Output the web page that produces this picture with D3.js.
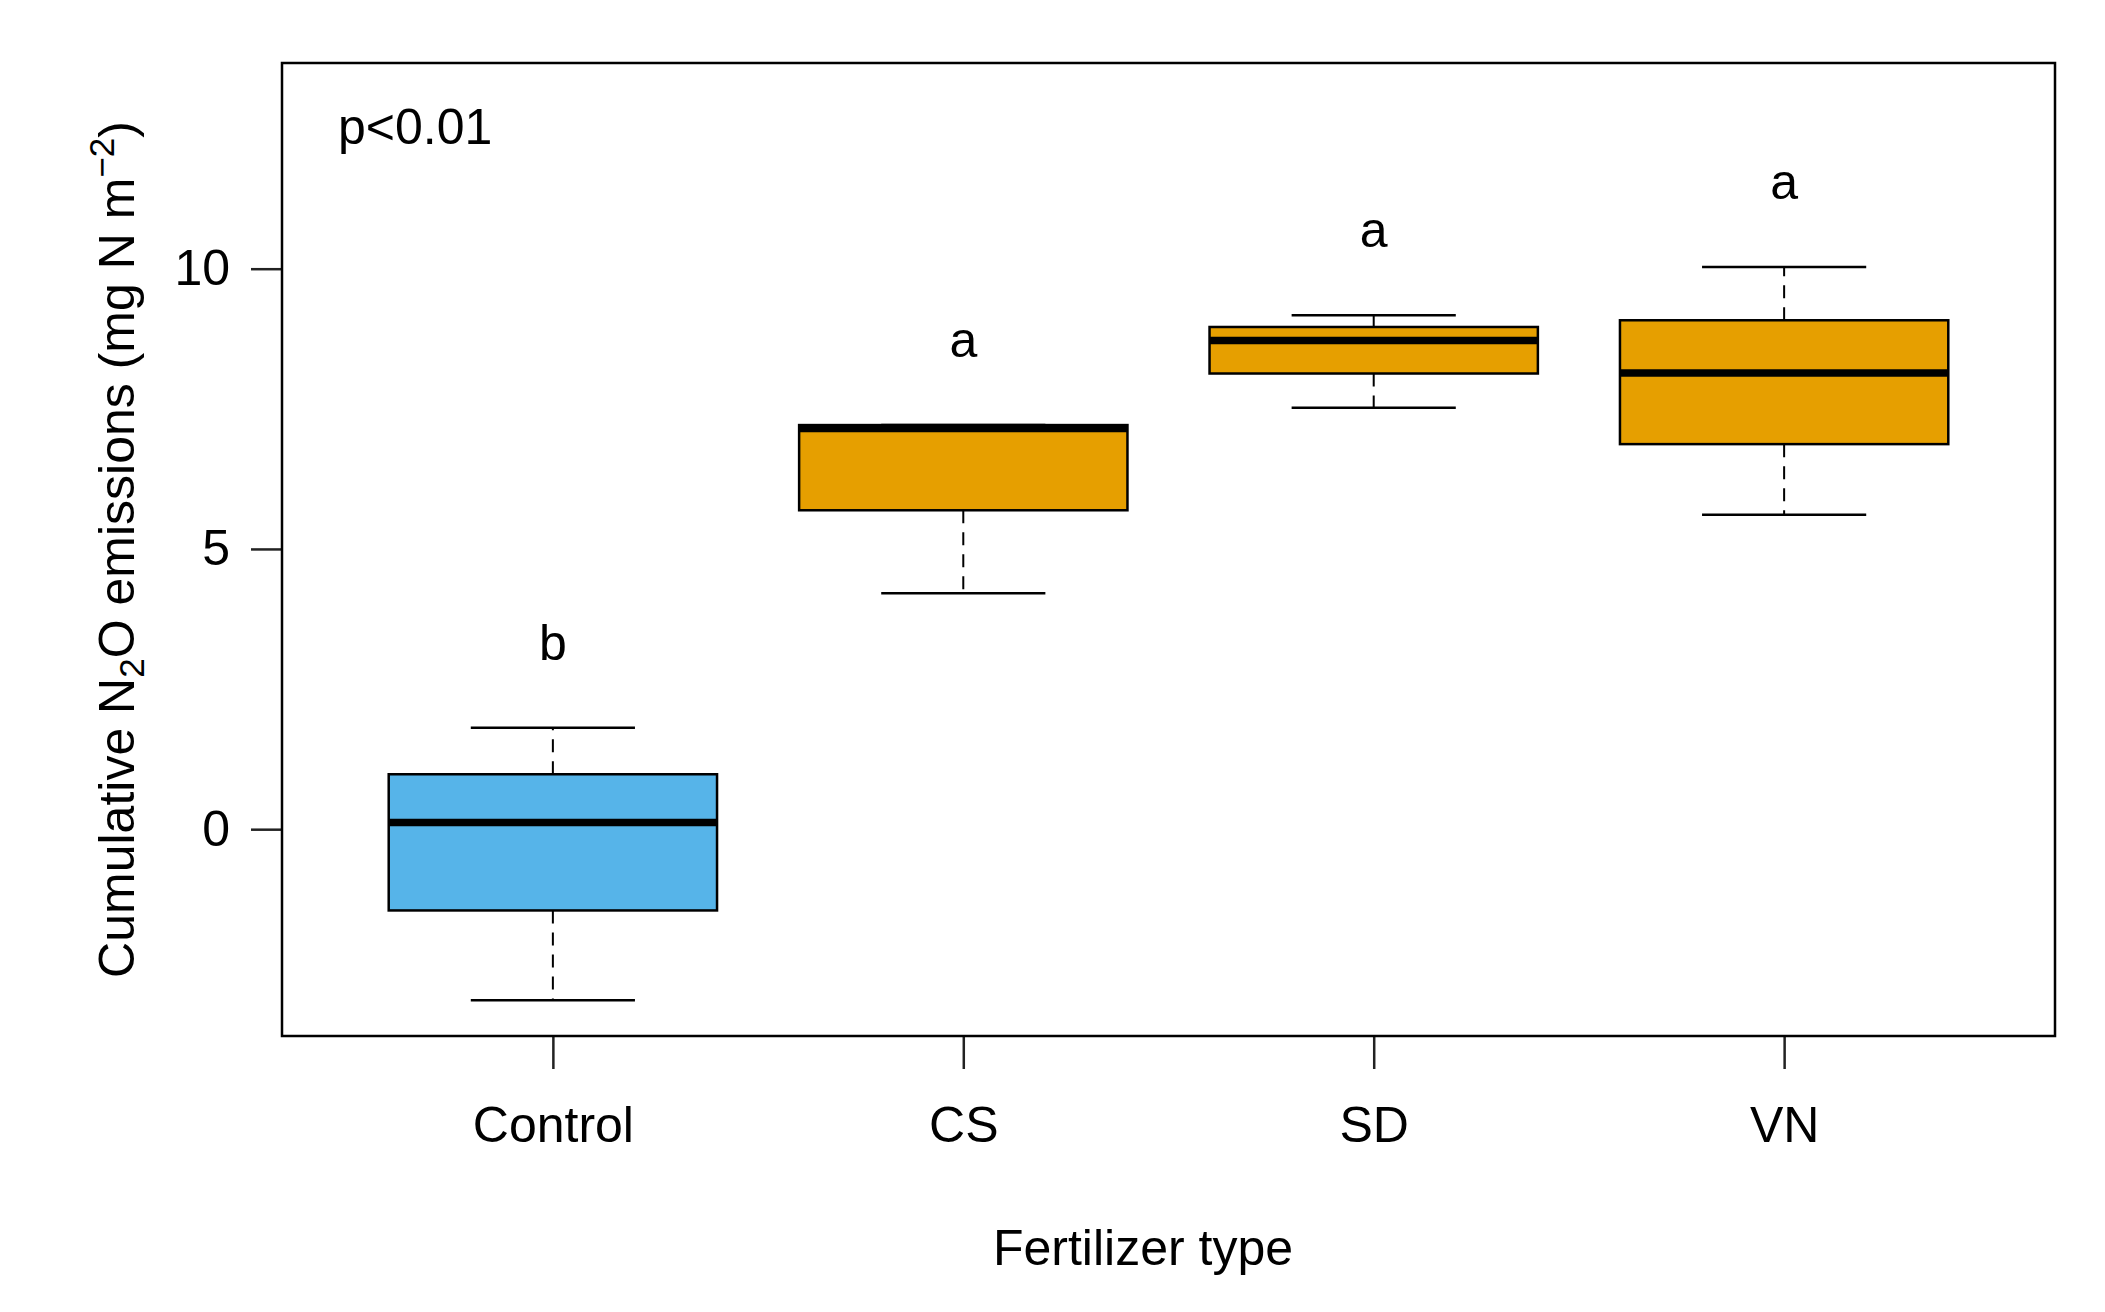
<!DOCTYPE html>
<html>
<head>
<meta charset="utf-8">
<script src="https://cdn.jsdelivr.net/npm/d3@7"></script>
<style>
  body { margin: 0; background: #fff; }
  text { font-family: "Liberation Sans", Arial, Helvetica, sans-serif; fill: #000; }
</style>
</head>
<body>
<script>
// ____________ data
var categories  = ["Control", "CS", "SD", "VN"]
var whiskerLow  = [-3.05, 4.21, 7.52, 5.61]
var q1          = [-1.45, 5.69, 8.13, 6.87]
var medians     = [0.12, 7.15, 8.72, 8.14]
var q3          = [0.98, 7.21, 8.96, 9.08]
var whiskerHigh = [1.81, 7.21, 9.17, 10.03]
var letters     = ["b", "a", "a", "a"]
var yTicks      = [0, 5, 10]
var pLabel      = "p<0.01"

var W = 2105, H = 1312
var box = { left: 282, right: 2055, top: 63, bottom: 1036 }

var svg = d3.select("body").append("svg")
    .attr("width", W)
    .attr("height", H)

// R style: x runs 0.34 .. 4.66 for four groups
var x = d3.scaleLinear()
    .domain([0.34, 4.66])
    .range([box.left, box.right])

var y = d3.scaleLinear()
    .domain([-3.69, 13.67])
    .range([box.bottom, box.top])

var fill = d3.scaleOrdinal()
    .domain(categories)
    .range(["#56B4E9", "#E69F00", "#E69F00", "#E69F00"])

var unit = x(2) - x(1)
var boxW = 0.8 * unit, stapleW = 0.4 * unit

var rows = categories.map(function (c, i) {
  return { name: c, i: i + 1, lo: whiskerLow[i], q1: q1[i], med: medians[i],
           q3: q3[i], hi: whiskerHigh[i], letter: letters[i] }
})

// _____________ axes
var yAxis = svg.append("g")
    .attr("transform", "translate(" + box.left + ",0)")
    .call(d3.axisLeft(y).tickValues(yTicks).tickSize(31).tickPadding(21))
yAxis.select(".domain").remove()

var xAxis = svg.append("g")
    .attr("transform", "translate(0," + box.bottom + ")")
    .call(d3.axisBottom(x).tickValues([1, 2, 3, 4])
      .tickFormat(function (d) { return categories[d - 1] })
      .tickSize(33).tickPadding(37))
xAxis.select(".domain").remove()

svg.selectAll(".tick line").attr("stroke", "#222").attr("stroke-width", 2.5)
svg.selectAll(".tick text")
    .style("font-size", "50px")
    .style("font-family", "'Liberation Sans', Arial, sans-serif")
    .attr("fill", "#000")

// _____________ boxes
var g = svg.append("g").attr("class", "boxes")
var grp = g.selectAll("g.box").data(rows).enter().append("g").attr("class", "box")

// whiskers
grp.append("line")
    .attr("x1", function (d) { return x(d.i) }).attr("x2", function (d) { return x(d.i) })
    .attr("y1", function (d) { return y(d.q3) }).attr("y2", function (d) { return y(d.hi) })
    .attr("stroke", "#000").attr("stroke-width", 2).attr("stroke-dasharray", "13,9")
grp.append("line")
    .attr("x1", function (d) { return x(d.i) }).attr("x2", function (d) { return x(d.i) })
    .attr("y1", function (d) { return y(d.q1) }).attr("y2", function (d) { return y(d.lo) })
    .attr("stroke", "#000").attr("stroke-width", 2).attr("stroke-dasharray", "13,9")

// staples
;["lo", "hi"].forEach(function (k) {
  grp.append("line")
      .attr("x1", function (d) { return x(d.i) - stapleW / 2 })
      .attr("x2", function (d) { return x(d.i) + stapleW / 2 })
      .attr("y1", function (d) { return y(d[k]) }).attr("y2", function (d) { return y(d[k]) })
      .attr("stroke", "#000").attr("stroke-width", 2.5)
})

grp.append("rect")
    .attr("x", function (d) { return x(d.i) - boxW / 2 })
    .attr("width", boxW)
    .attr("y", function (d) { return y(d.q3) })
    .attr("height", function (d) { return y(d.q1) - y(d.q3) })
    .attr("fill", function (d) { return fill(d.name) })
    .attr("stroke", "#000").attr("stroke-width", 2.5)

grp.append("line")
    .attr("x1", function (d) { return x(d.i) - boxW / 2 })
    .attr("x2", function (d) { return x(d.i) + boxW / 2 })
    .attr("y1", function (d) { return y(d.med) }).attr("y2", function (d) { return y(d.med) })
    .attr("stroke", "#000").attr("stroke-width", 7.5)

// significance letters, just above the upper whisker
grp.append("text")
    .attr("x", function (d) { return x(d.i) })
    .attr("y", function (d) { return y(d.hi + 1.21) })
    .attr("text-anchor", "middle")
    .style("font-size", "50px")
    .text(function (d) { return d.letter })

// _____________ frame
svg.append("rect")
    .attr("x", box.left).attr("y", box.top)
    .attr("width", box.right - box.left).attr("height", box.bottom - box.top)
    .attr("fill", "none").attr("stroke", "#000").attr("stroke-width", 2.5)

svg.append("text")
    .attr("x", 338).attr("y", 144)
    .style("font-size", "50px")
    .text(pLabel)

// axis titles
svg.append("text")
    .attr("x", 1143).attr("y", 1265)
    .attr("text-anchor", "middle")
    .style("font-size", "50px")
    .text("Fertilizer type")

var yl = svg.append("text")
    .attr("transform", "translate(134," + ((box.top + box.bottom) / 2) + ") rotate(-90)")
    .attr("text-anchor", "middle")
    .style("font-size", "50px")
yl.append("tspan").text("Cumulative N")
yl.append("tspan").attr("dy", 10).style("font-size", "35px").text("2")
yl.append("tspan").attr("dy", -10).text("O emissions (mg N m")
yl.append("tspan").attr("dy", -20).style("font-size", "35px").text("\u22122")
yl.append("tspan").attr("dy", 20).text(")")
</script>
</body>
</html>
